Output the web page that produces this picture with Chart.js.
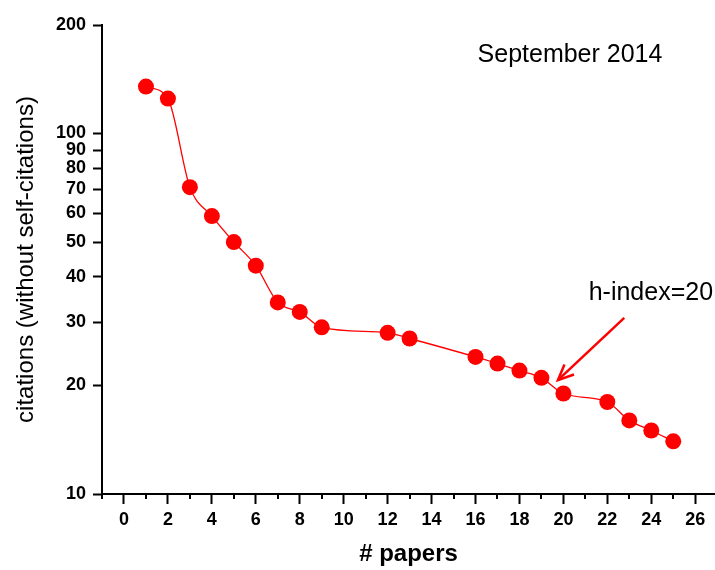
<!DOCTYPE html>
<html>
<head>
<meta charset="utf-8">
<script src="https://cdn.jsdelivr.net/npm/chart.js@4/dist/chart.umd.min.js"></script>
<style>
html,body{margin:0;padding:0;background:#fff;}
#wrap{width:715px;height:570px;}
</style>
</head>
<body>
<div id="wrap"><canvas id="c" width="715" height="570"></canvas></div>
<script>
// ---- data ----
const papers    = [1, 2, 3, 4, 5, 6, 7, 8, 9, 12, 13, 16, 17, 18, 19, 20, 22, 23, 24, 25];
const citations = [135, 125, 71, 59, 50, 43, 34, 32, 29, 28, 27, 24, 23, 22, 21, 19, 18, 16, 15, 14];
const xTicks = [-1,0,1,2,3,4,5,6,7,8,9,10,11,12,13,14,15,16,17,18,19,20,21,22,23,24,25,26];
const yTicks = [10, 20, 30, 40, 50, 60, 70, 80, 90, 100, 200];
const titleText = 'September 2014';
const hLabel = 'h-index=20';
const titlePos = [20.3, 165];
const hLabelPos = [21.15, 36];
const arrowFrom = [22.77, 30.8];
const arrowTo = [19.75, 20.7];

const FONT = "'Liberation Sans', Arial, sans-serif";

const annot = {
  id: 'annot',
  afterDraw(chart) {
    const ctx = chart.ctx;
    const xs = chart.scales.x, ys = chart.scales.y;
    const ca = chart.chartArea;
    ctx.save();
    ctx.strokeStyle = '#000';
    ctx.lineWidth = 2;
    xTicks.forEach(v => {
      if (Math.abs(v % 2) === 1) {
        const px = Math.round(xs.getPixelForValue(v));
        ctx.beginPath();
        ctx.moveTo(px, ca.bottom);
        ctx.lineTo(px, ca.bottom + 5);
        ctx.stroke();
      }
    });
    ctx.fillStyle = '#000';
    ctx.font = '25px ' + FONT;
    ctx.textAlign = 'center';
    ctx.textBaseline = 'middle';
    ctx.fillText(titleText, xs.getPixelForValue(titlePos[0]), ys.getPixelForValue(titlePos[1]));
    ctx.textAlign = 'left';
    ctx.fillText(hLabel, xs.getPixelForValue(hLabelPos[0]), ys.getPixelForValue(hLabelPos[1]));
    const x1 = xs.getPixelForValue(arrowFrom[0]), y1 = ys.getPixelForValue(arrowFrom[1]);
    const x2 = xs.getPixelForValue(arrowTo[0]), y2 = ys.getPixelForValue(arrowTo[1]);
    ctx.strokeStyle = '#ff0000';
    ctx.lineWidth = 2.5;
    ctx.beginPath();
    ctx.moveTo(x1, y1);
    ctx.lineTo(x2, y2);
    ctx.stroke();
    const ang = Math.atan2(y2 - y1, x2 - x1);
    const hl = 17, ha = 0.42;
    ctx.beginPath();
    ctx.moveTo(x2 - hl * Math.cos(ang - ha), y2 - hl * Math.sin(ang - ha));
    ctx.lineTo(x2, y2);
    ctx.lineTo(x2 - hl * Math.cos(ang + ha), y2 - hl * Math.sin(ang + ha));
    ctx.stroke();
    ctx.restore();
  }
};

new Chart(document.getElementById('c'), {
  type: 'scatter',
  data: {
    datasets: [{
      data: papers.map((p, i) => ({x: p, y: citations[i]})),
      showLine: true,
      borderColor: '#ff0000',
      borderWidth: 1.3,
      backgroundColor: '#ff0000',
      pointBackgroundColor: '#ff0000',
      pointBorderWidth: 0,
      pointRadius: 8,
      pointHoverRadius: 8,
      cubicInterpolationMode: 'monotone',
      clip: false
    }]
  },
  options: {
    responsive: false,
    animation: false,
    events: [],
    layout: {autoPadding: false, padding: {top: 25, right: 0, bottom: 0, left: 0}},
    plugins: {legend: {display: false}, tooltip: {enabled: false}},
    scales: {
      x: {
        type: 'linear',
        min: -1,
        max: 26.9,
        afterBuildTicks: s => { s.ticks = xTicks.map(v => ({value: v})); },
        afterFit: s => { s.height = 76; s.paddingRight = 0; s.paddingLeft = 0; },
        border: {display: true, color: '#000', width: 2},
        grid: {
          display: true, drawOnChartArea: false, drawTicks: true,
          tickLength: 10, tickWidth: 2,
          tickColor: c => (Math.abs(c.tick.value % 2) === 1 ? 'rgba(0,0,0,0)' : '#000')
        },
        ticks: {
          autoSkip: false, maxRotation: 0, padding: 5,
          color: '#000',
          font: {family: FONT, size: 18, weight: 'bold'},
          callback: v => (v >= 0 && v % 2 === 0 ? String(v) : '')
        },
        title: {
          display: true, text: '# papers', color: '#000',
          font: {family: FONT, size: 24, weight: 'bold'},
          padding: {top: 1, bottom: 1}
        }
      },
      y: {
        type: 'logarithmic',
        min: 10,
        max: 200,
        afterBuildTicks: s => { s.ticks = yTicks.map(v => ({value: v})); },
        afterFit: s => { s.width = 102; },
        border: {display: true, color: '#000', width: 2},
        grid: {
          display: true, drawOnChartArea: false, drawTicks: true,
          tickLength: 9, tickWidth: 2, tickColor: '#000'
        },
        ticks: {
          autoSkip: false, padding: 7,
          color: '#000',
          font: {family: FONT, size: 18, weight: 'bold'},
          callback: v => String(v)
        },
        title: {
          display: true, text: 'citations (without self-citations)', color: '#000',
          font: {family: FONT, size: 24},
          padding: {top: 12, bottom: 4}
        }
      }
    }
  },
  plugins: [annot]
});
</script>
</body>
</html>
